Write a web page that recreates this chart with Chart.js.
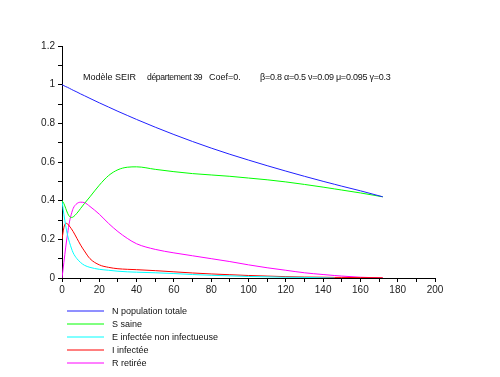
<!DOCTYPE html>
<html>
<head>
<meta charset="utf-8">
<script src="https://cdn.jsdelivr.net/npm/chart.js@4"></script>
<style>
  body { margin: 0; background: #fff; }
  #wrap { position: relative; width: 500px; height: 377px; font-family: "Liberation Sans", Arial, sans-serif; }
  .titre { position: absolute; top: 72px; font-size: 9px; color: #111; white-space: pre; }
  #legende { position: absolute; left: 112px; top: 305px; font-size: 9px; color: #111; }
  .item { height: 13px; line-height: 13px; }
</style>
</head>
<body>
<div id="wrap">
  <canvas id="myChart" width="500" height="377"></canvas>
  <div class="titre" style="left:83px">Modèle SEIR</div>
  <div class="titre" style="left:147px; font-size:8.6px; letter-spacing:-0.35px">département 39</div>
  <div class="titre" style="left:209px">Coef=0.</div>
  <div class="titre" style="left:260px; letter-spacing:-0.25px">β=0.8 α=0.5 ν=0.09 μ=0.095 γ=0.3</div>
  <div id="legende"></div>
</div>
<script>
// temps (jours)
const t = [0, 1, 2, 3, 4, 5, 6, 8, 10, 12, 15, 20, 25, 30, 35, 40, 50, 60, 70, 80, 90, 100, 110, 120, 130, 140, 146, 150, 160, 172];

const N = [1, 0.995, 0.99, 0.986, 0.981, 0.976, 0.971, 0.962, 0.952, 0.943, 0.929, 0.906, 0.884, 0.862, 0.841, 0.82, 0.78, 0.742, 0.706, 0.672, 0.64, 0.61, 0.581, 0.553, 0.526, 0.5, 0.485, 0.475, 0.451, 0.42];
const S = [0.4, 0.385, 0.36, 0.335, 0.318, 0.313, 0.316, 0.335, 0.36, 0.385, 0.42, 0.48, 0.53, 0.56, 0.573, 0.575, 0.562, 0.55, 0.54, 0.533, 0.526, 0.517, 0.508, 0.497, 0.484, 0.47, 0.461, 0.455, 0.44, 0.42];
const E = [0.4, 0.33, 0.27, 0.22, 0.185, 0.155, 0.13, 0.1, 0.08, 0.066, 0.055, 0.045, 0.04, 0.035, 0.032, 0.03, 0.027, 0.023, 0.018, 0.014, 0.011, 0.008, 0.006, 0.004, 0.003, 0.001, 0, null, null, null];
const I = [0.2, 0.26, 0.283, 0.28, 0.268, 0.255, 0.24, 0.205, 0.17, 0.14, 0.1, 0.068, 0.055, 0.048, 0.045, 0.043, 0.038, 0.032, 0.026, 0.021, 0.017, 0.013, 0.01, 0.007, 0.005, 0.004, 0.003, 0.003, 0.002, 0.001];
const R = [0, 0.08, 0.16, 0.23, 0.29, 0.33, 0.36, 0.385, 0.392, 0.39, 0.37, 0.33, 0.282, 0.24, 0.205, 0.177, 0.148, 0.13, 0.115, 0.1, 0.085, 0.068, 0.053, 0.04, 0.027, 0.018, 0.013, 0.01, 0.004, 0];

const noms = ["N population totale", "S saine", "E infectée non infectueuse", "I infectée", "R retirée"];
const couleurs = ["#2020ff", "#00ff00", "#00ffff", "#ff0000", "#ff00ff"];
const series = [N, S, E, I, R];

const xTicks = [0, 20, 40, 60, 80, 100, 120, 140, 160, 180, 200];
const yTicks = [0, 0.2, 0.4, 0.6, 0.8, 1, 1.2];

// traits de la légende, dessinés sous le graphique
const traitsLegende = {
  id: "traitsLegende",
  afterDraw(chart) {
    const c = chart.ctx;
    c.save();
    c.lineWidth = 1;
    couleurs.forEach((col, i) => {
      const y = 311 + i * 13;
      c.strokeStyle = col;
      c.beginPath();
      c.moveTo(67, y);
      c.lineTo(104, y);
      c.stroke();
    });
    c.restore();
  },
};

const ctx = document.getElementById("myChart");

new Chart(ctx, {
  type: "line",
  data: {
    datasets: series.map((v, i) => ({
      label: noms[i],
      data: t.map((x, k) => ({ x: x, y: v[k] })),
      borderColor: couleurs[i],
      borderWidth: 1,
      pointRadius: 0,
      cubicInterpolationMode: "monotone",
      spanGaps: false,
    })),
  },
  options: {
    responsive: false,
    animation: false,
    layout: { padding: { top: 46, right: 65, bottom: 79, left: 0 } },
    plugins: { legend: { display: false }, tooltip: { enabled: false } },
    scales: {
      x: {
        type: "linear",
        min: 0,
        max: 200,
        afterFit: (s) => { s.height = 20; },
        afterBuildTicks: (s) => {
          s.ticks = [];
          for (let v = 0; v <= 200; v += 10) s.ticks.push({ value: v });
        },
        ticks: {
          autoSkip: false,
          maxRotation: 0,
          color: "#222",
          font: { family: "Liberation Sans", size: 10 },
          padding: 2,
          callback: (v) => (xTicks.includes(v) ? String(v) : ""),
        },
        grid: { drawOnChartArea: false, tickLength: 4, color: "#000" },
        border: { color: "#000" },
      },
      y: {
        min: 0,
        max: 1.2,
        afterFit: (s) => { s.width = 62; },
        afterBuildTicks: (s) => {
          s.ticks = [];
          for (let k = 0; k <= 12; k++) s.ticks.push({ value: k / 10 });
        },
        ticks: {
          autoSkip: false,
          color: "#222",
          font: { family: "Liberation Sans", size: 10 },
          padding: 3,
          callback: (v) => {
            const r = Math.round(v * 10) / 10;
            return yTicks.includes(r) ? String(r) : "";
          },
        },
        grid: { drawOnChartArea: false, tickLength: 4, color: "#000" },
        border: { color: "#000" },
      },
    },
  },
  plugins: [traitsLegende],
});

// textes de la légende
const leg = document.getElementById("legende");
noms.forEach((n) => {
  const d = document.createElement("div");
  d.className = "item";
  d.textContent = n;
  leg.appendChild(d);
});
</script>
</body>
</html>
